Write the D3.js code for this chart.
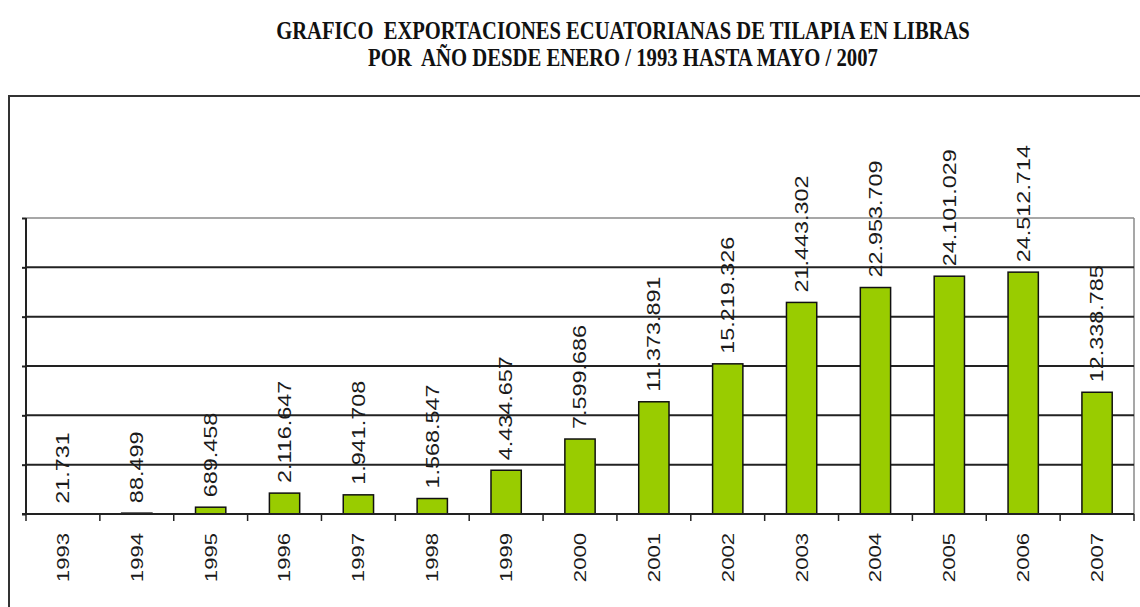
<!DOCTYPE html>
<html>
<head>
<meta charset="utf-8">
<script src="https://cdn.jsdelivr.net/npm/d3@7"></script>
<style>
  html, body { margin: 0; padding: 0; background: #fff; }
  svg { display: block; }
  .title { white-space: pre; }
</style>
</head>
<body>
<svg id="chart" width="1140" height="607"></svg>
<script>
// ---- data ----
const years = ["1993","1994","1995","1996","1997","1998","1999","2000","2001","2002","2003","2004","2005","2006","2007"];
const pounds = [21731, 88499, 689458, 2116647, 1941708, 1568547, 4434657, 7599686, 11373891, 15219326, 21443302, 22953709, 24101029, 24512714, 12338785];
const yTicks = [0, 5000000, 10000000, 15000000, 20000000, 25000000, 30000000];
const titleLines = ["GRAFICO  EXPORTACIONES ECUATORIANAS DE TILAPIA EN LIBRAS", "POR  AÑO DESDE ENERO / 1993 HASTA MAYO / 2007"];

// ---- layout ----
const svg = d3.select("#chart");
const plotL = 26, plotR = 1134, plotT = 218, plotB = 514;
const locale = d3.formatLocale({decimal: ",", thousands: ".", grouping: [3], currency: ["", ""]});
const fmt = locale.format(",d");

const x = d3.scaleBand().domain(years).range([plotL, plotR]).paddingInner(0.59).paddingOuter(0.295);
const xb = d3.scaleBand().domain(years).range([plotL, plotR]).padding(0);
const y = d3.scaleLinear().domain([0, 30000000]).range([plotB, plotT]);

// outer frame
svg.append("rect").attr("x", 9).attr("y", 96).attr("width", 1160).attr("height", 540)
  .attr("fill", "none").attr("stroke", "#333").attr("stroke-width", 2);

// title (horizontally condensed serif, as in the reference)
const tw = [694, 510];
const ty = [39, 66];
titleLines.forEach((t, i) => {
  const txt = svg.append("text").attr("class", "title").attr("x", 0).attr("y", 0)
    .attr("text-anchor", "middle")
    .attr("font-family", "'Liberation Serif', 'Times New Roman', serif")
    .attr("font-weight", "bold").attr("font-size", 26)
    .attr("fill", "#111").text(t);
  const w = txt.node().getComputedTextLength();
  txt.attr("transform", `translate(623,${ty[i]}) scale(${tw[i] / w},1)`);
});

// plot border (gray) - top and right
svg.append("line").attr("x1", plotL).attr("x2", plotR).attr("y1", y(30000000)).attr("y2", y(30000000))
  .attr("stroke", "#8a8a8a").attr("stroke-width", 1.5);
svg.append("line").attr("x1", plotR).attr("x2", plotR).attr("y1", y(30000000)).attr("y2", plotB)
  .attr("stroke", "#8a8a8a").attr("stroke-width", 1.5);

// gridlines
svg.append("g").selectAll("line").data(yTicks.filter(d => d > 0 && d < 30000000)).join("line")
  .attr("x1", plotL).attr("x2", plotR).attr("y1", d => y(d)).attr("y2", d => y(d))
  .attr("stroke", "#222").attr("stroke-width", 2);

// y axis (no labels)
const yAxis = d3.axisLeft(y).tickValues(yTicks).tickSize(4).tickFormat("");
const gy = svg.append("g").attr("transform", `translate(${plotL},0)`).call(yAxis);
gy.select(".domain").attr("stroke", "#222").attr("stroke-width", 2).attr("d", `M0,${plotT}V${plotB}`);
gy.selectAll(".tick line").attr("stroke", "#222").attr("stroke-width", 2);

// bars
svg.append("g").selectAll("rect").data(years).join("rect")
  .attr("x", d => x(d)).attr("width", x.bandwidth())
  .attr("y", (d, i) => y(pounds[i])).attr("height", (d, i) => plotB - y(pounds[i]))
  .attr("fill", "#99cc00").attr("stroke", "#111").attr("stroke-width", 1.5);

// x axis baseline and ticks
svg.append("line").attr("x1", plotL - 4).attr("x2", plotR).attr("y1", plotB).attr("y2", plotB)
  .attr("stroke", "#222").attr("stroke-width", 2);
const tickXs = years.map(d => xb(d)).concat([plotR]);
svg.append("g").selectAll("line").data(tickXs).join("line")
  .attr("x1", d => d).attr("x2", d => d).attr("y1", plotB).attr("y2", plotB + 7)
  .attr("stroke", "#222").attr("stroke-width", 1.5);

// year labels
svg.append("g").selectAll("text").data(years).join("text")
  .attr("transform", d => `translate(${xb(d) + xb.bandwidth() / 2},${plotB + 19}) rotate(-90) scale(1.3,1)`)
  .attr("text-anchor", "end").attr("dy", "0.35em")
  .attr("font-family", "'Liberation Sans', Arial, sans-serif").attr("font-size", 17)
  .attr("fill", "#1a1a1a").text(d => d);

// value labels
svg.append("g").selectAll("text").data(years).join("text")
  .attr("transform", (d, i) => `translate(${xb(d) + xb.bandwidth() / 2},${y(pounds[i]) - 10}) rotate(-90) scale(1.3,1)`)
  .attr("text-anchor", "start").attr("dy", "0.35em")
  .attr("font-family", "'Liberation Sans', Arial, sans-serif").attr("font-size", 18)
  .attr("fill", "#1a1a1a").text((d, i) => fmt(pounds[i]));
</script>
</body>
</html>
